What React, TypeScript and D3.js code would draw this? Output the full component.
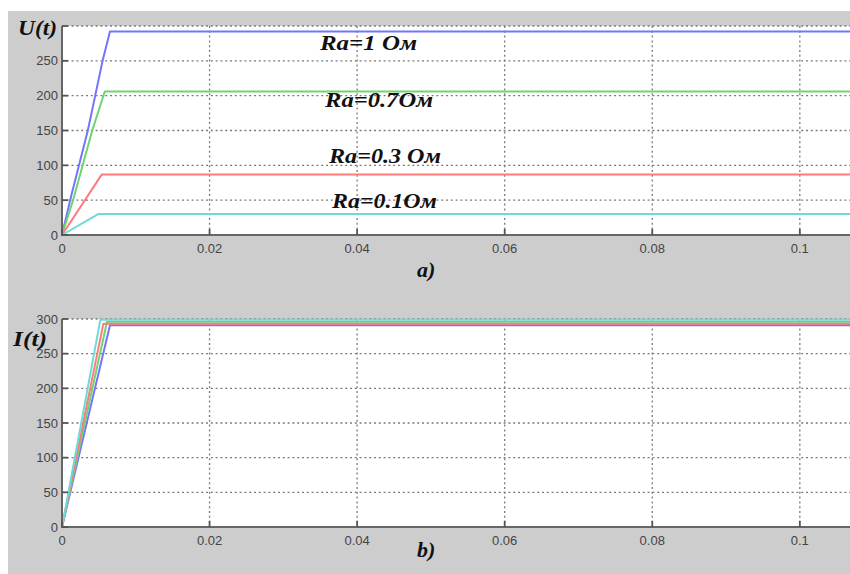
import React from 'react';
import * as d3 from 'd3';

// time axis ticks (s) and value ticks
const timeTicks = [0, 0.02, 0.04, 0.06, 0.08, 0.1];
const timeTickLabels = ['0', '0.02', '0.04', '0.06', '0.08', '0.1'];
const valueTicks = [0, 50, 100, 150, 200, 250, 300];
const uTickLabels = ['0', '50', '100', '150', '200', '250', ''];
const iTickLabels = ['0', '50', '100', '150', '200', '250', '300'];

// a) U(t) for different Ra
const uTime1 = [0, 0.0011, 0.0023, 0.0035, 0.0045, 0.0055, 0.0065, 0.107];
const uVal1 = [0, 50, 100, 150, 200, 250, 292, 292];
const uTime07 = [0, 0.0015, 0.0028, 0.0041, 0.0058, 0.107];
const uVal07 = [0, 50, 100, 150, 206, 206];
const uTime03 = [0, 0.0054, 0.107];
const uVal03 = [0, 87, 87];
const uTime01 = [0, 0.0049, 0.107];
const uVal01 = [0, 30, 30];

// b) I(t)
const iTime1 = [0, 0.0065, 0.107];
const iVal1 = [0, 291, 291];
const iTime07 = [0, 0.0061, 0.107];
const iVal07 = [0, 296, 296];
const iTime03 = [0, 0.0056, 0.107];
const iVal03 = [0, 293, 293];
const iTime01 = [0, 0.0052, 0.107];
const iVal01 = [0, 299, 299];

const raLabels = ['Ra=1 Ом', 'Ra=0.7Ом', 'Ra=0.3 Ом', 'Ra=0.1Ом'];

const colors = ['#7474ff', '#6fd36f', '#ff7a7a', '#6ddada'];

const W = 850;
const H = 574;

const x = d3.scaleLinear().domain([0, 0.1068]).range([62, W]);

const zip = (t: number[], v: number[]) => t.map((d, i) => [d, v[i]] as [number, number]);

function Panel({ top, bottom, series, tickLabels }: {
  top: number; bottom: number; series: [number, number][][]; tickLabels: string[];
}) {
  const y = d3.scaleLinear().domain([0, 300]).range([bottom, top]);
  const line = d3.line<[number, number]>().x(d => x(d[0])).y(d => y(d[1]));
  const grid = '#7a7a7a';
  return (
    <g>
      <rect x={x(0)} y={top} width={W - x(0)} height={bottom - top} fill="#fff" />
      {valueTicks.slice(1).map(v => (
        <line key={'h' + v} x1={x(0)} x2={W} y1={y(v)} y2={y(v)} stroke={grid} strokeWidth={1.3} strokeDasharray="2,2.8" />
      ))}
      {timeTicks.slice(1).map(t => (
        <line key={'v' + t} x1={x(t)} x2={x(t)} y1={top} y2={bottom} stroke={grid} strokeWidth={1.3} strokeDasharray="2,2.8" />
      ))}
      {series.map((s, i) => (
        <path key={i} d={line(s) || ''} fill="none" stroke={colors[i]} strokeWidth={2} strokeLinejoin="round" />
      ))}
      <line x1={x(0)} x2={x(0)} y1={top} y2={bottom + 1} stroke="#666" strokeWidth={2} />
      <line x1={x(0)} x2={W} y1={bottom} y2={bottom} stroke="#666" strokeWidth={2} />
      {valueTicks.map((v, i) => (
        <g key={'yt' + v}>
          <line x1={x(0)} x2={x(0) + 6} y1={y(v)} y2={y(v)} stroke="#555" strokeWidth={1.8} />
          <text x={x(0) - 4} y={y(v) + 4.5} textAnchor="end" fontSize={13} fill="#444"
            fontFamily="'Liberation Sans', Arial, sans-serif">{tickLabels[i]}</text>
        </g>
      ))}
      {timeTicks.map((t, i) => (
        <g key={'xt' + t}>
          <line x1={x(t)} x2={x(t)} y1={bottom} y2={bottom - 6} stroke="#555" strokeWidth={1.8} />
          <text x={x(t)} y={bottom + 18} textAnchor="middle" fontSize={13} fill="#444"
            fontFamily="'Liberation Sans', Arial, sans-serif">{timeTickLabels[i]}</text>
        </g>
      ))}
    </g>
  );
}

export default function App() {
  const serif = "'Liberation Serif', 'Times New Roman', serif";
  const uSeries = [zip(uTime1, uVal1), zip(uTime07, uVal07), zip(uTime03, uVal03), zip(uTime01, uVal01)];
  const iSeries = [zip(iTime1, iVal1), zip(iTime07, iVal07), zip(iTime03, iVal03), zip(iTime01, iVal01)];
  const labelPos = [[320, 50, 97], [325, 107, 108], [329, 163, 112], [332, 208, 105]];
  return (
    <svg width={W} height={H} style={{ position: 'absolute', left: 0, top: 0 }}>
      <rect width={W} height={H} fill="#fff" />
      <rect x={8} y={11} width={W - 8} height={H - 11} fill="#cdcdcd" />
      <Panel top={26} bottom={235} series={uSeries} tickLabels={uTickLabels} />
      <Panel top={319} bottom={527} series={iSeries} tickLabels={iTickLabels} />
      <g fontFamily={serif} fontWeight="bold" fontStyle="italic" fill="#111">
        {raLabels.map((s, i) => (
          <text key={s} x={labelPos[i][0]} y={labelPos[i][1]} fontSize={21}
            textLength={labelPos[i][2]} lengthAdjust="spacingAndGlyphs">{s}</text>
        ))}
        <text x={18} y={35} fontSize={22} textLength={39} lengthAdjust="spacingAndGlyphs">U(t)</text>
        <text x={13} y={346} fontSize={22} textLength={34} lengthAdjust="spacingAndGlyphs">I(t)</text>
        <text x={417} y={277} fontSize={22}>a)</text>
        <text x={417} y={557} fontSize={22}>b)</text>
      </g>
    </svg>
  );
}
